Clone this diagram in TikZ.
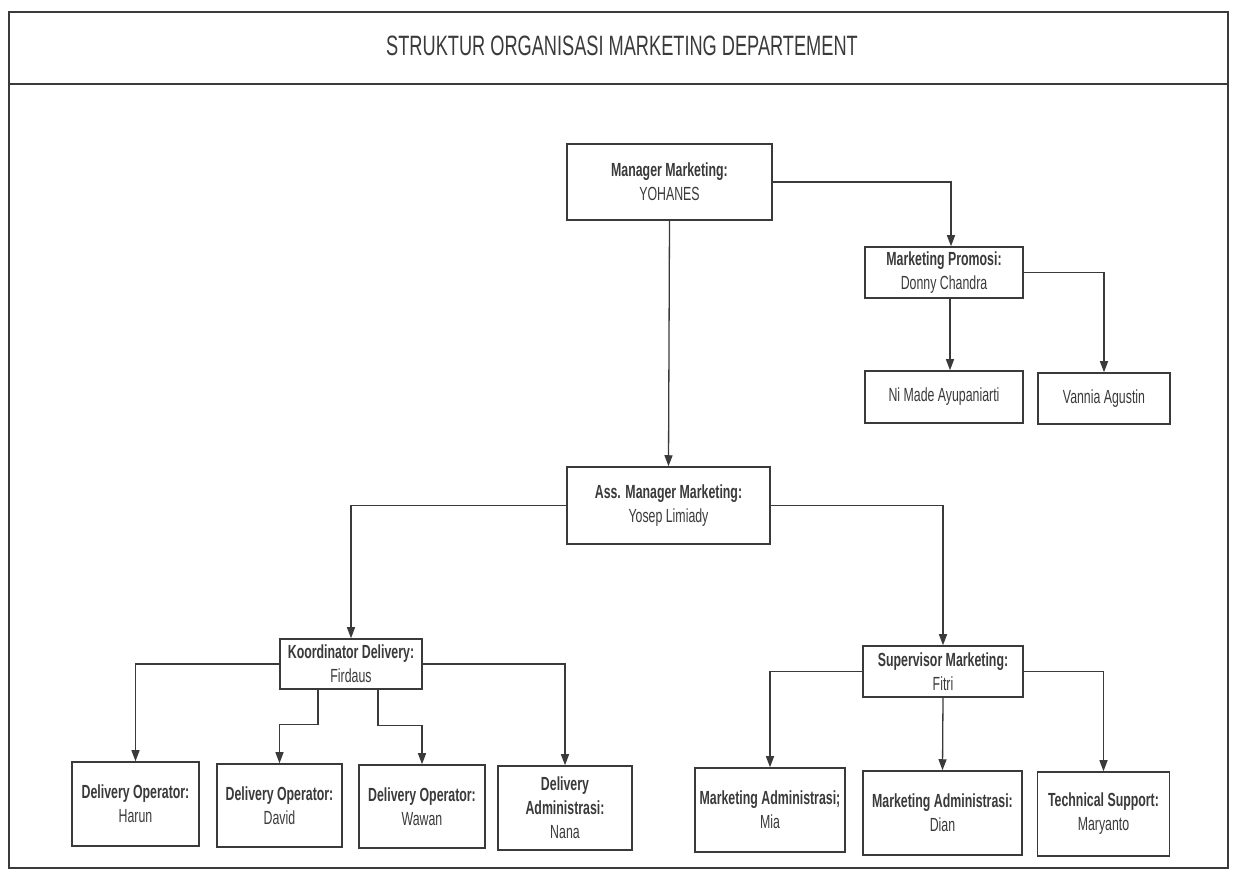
\documentclass[tikz,border=0pt]{standalone}
\usepackage{fontspec}
\setmainfont{Liberation Sans}[FakeStretch=0.65]
\usetikzlibrary{arrows.meta, positioning}
\definecolor{ink}{HTML}{3A3A3A}
\tikzstyle{post} = [
    rectangle,
    draw=ink,
    line width=1.5pt,
    text=ink,
    inner sep=0pt,
    align=center,
    font=\fontsize{19}{24}\selectfont
]
\tikzstyle{link} = [
    draw=ink,
    line width=1.3pt,
    -{Triangle[length=11pt,width=8pt]}
]
\begin{document}
\begin{tikzpicture}[x=1pt, y=1pt]
    \useasboundingbox (0,0) rectangle (1235,876);
    \draw[ink, line width=1.5pt] (9,8) rectangle (1228,864);
    \draw[ink, line width=1.5pt] (9,792) -- (1228,792);
    \node[text=ink, font=\fontsize{28}{32}\selectfont] (title) at (622,830) {STRUKTUR ORGANISASI MARKETING DEPARTEMENT};

    \node[post, minimum width=205pt, minimum height=76pt] (mgr) at (669.5,694) {\textbf{Manager Marketing:}\\YOHANES};
    \node[post, minimum width=158pt, minimum height=51pt] (promo) at (944,603.5) {\textbf{Marketing Promosi:}\\Donny Chandra};
    \node[post, minimum width=158pt, minimum height=52pt] (nimade) at (944,479) {Ni Made Ayupaniarti};
    \node[post, minimum width=132pt, minimum height=51pt] (vannia) at (1104,477.5) {Vannia Agustin};
    \node[post, minimum width=203pt, minimum height=77pt] (ass) at (668.5,370.5) {\textbf{Ass. Manager Marketing:}\\Yosep Limiady};
    \node[post, minimum width=142pt, minimum height=50pt] (koord) at (351,212) {\textbf{Koordinator Delivery:}\\Firdaus};
    \node[post, minimum width=160pt, minimum height=51pt] (superv) at (943,204.5) {\textbf{Supervisor Marketing:}\\Fitri};

    \node[post, minimum width=127pt, minimum height=84pt] (harun) at (135.5,72) {\textbf{Delivery Operator:}\\Harun};
    \node[post, minimum width=125pt, minimum height=83pt] (david) at (279.5,70.5) {\textbf{Delivery Operator:}\\David};
    \node[post, minimum width=126pt, minimum height=83pt] (wawan) at (422,69.5) {\textbf{Delivery Operator:}\\Wawan};
    \node[post, minimum width=134pt, minimum height=84pt] (nana) at (565,68) {\textbf{Delivery}\\\textbf{Administrasi:}\\Nana};
    \node[post, minimum width=150pt, minimum height=84pt] (mia) at (770,66) {\textbf{Marketing Administrasi;}\\Mia};
    \node[post, minimum width=159pt, minimum height=84pt] (dian) at (942.5,63) {\textbf{Marketing Administrasi:}\\Dian};
    \node[post, minimum width=132pt, minimum height=84pt] (maryanto) at (1103.5,62) {\textbf{Technical Support:}\\Maryanto};

    \draw[link] (mgr.east) -| ([xshift=7pt]promo.north);
    \draw[link] ([xshift=6pt]promo.south) -- ([xshift=6pt]nimade.north);
    \draw[link] (promo.east) -| (vannia.north);
    \draw[link] (mgr.south) -- (ass.north);
    \draw[link] (ass.west) -| (koord.north);
    \draw[link] (ass.east) -| (superv.north);
    \draw[link] (koord.west) -| (harun.north);
    \draw[link] ([xshift=-33pt]koord.south) -- ++(0,-35) -| (david.north);
    \draw[link] ([xshift=27pt]koord.south) -- ++(0,-36) -| (wawan.north);
    \draw[link] (koord.east) -| (nana.north);
    \draw[link] (superv.west) -| (mia.north);
    \draw[link] (superv.south) -- (dian.north);
    \draw[link] (superv.east) -| (maryanto.north);
\end{tikzpicture}
\end{document}
